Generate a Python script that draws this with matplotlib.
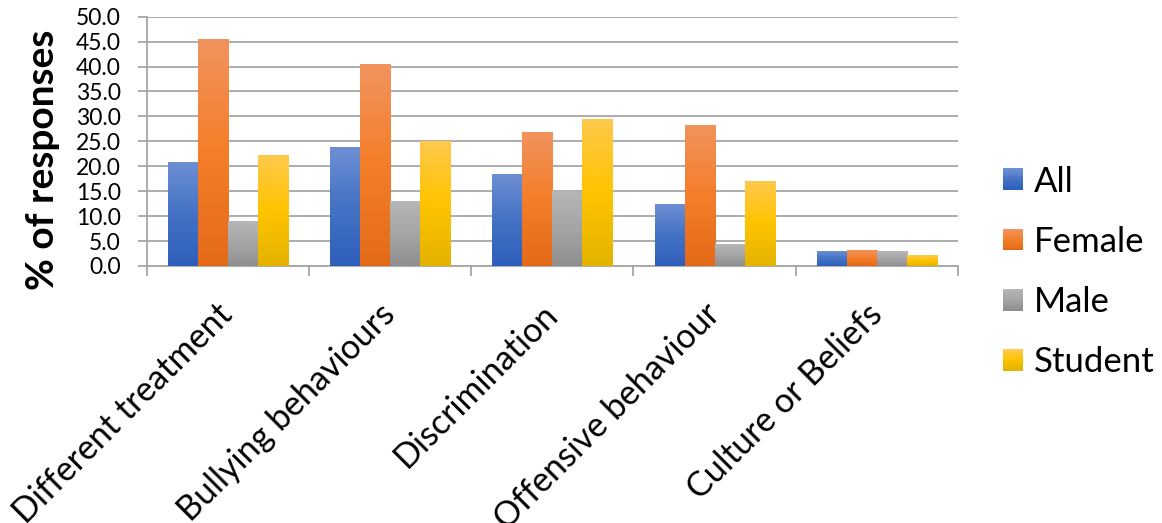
import numpy as np
import matplotlib
matplotlib.use("Agg")
import matplotlib.pyplot as plt
from matplotlib.colors import LinearSegmentedColormap
from matplotlib.legend_handler import HandlerPatch
from matplotlib.patches import Rectangle, Patch

# data
categories = ["Different treatment", "Bullying behaviours", "Discrimination",
              "Offensive behaviour", "Culture or Beliefs"]
series_names = ["All", "Female", "Male", "Student"]
all_vals = [20.7, 23.7, 18.4, 12.4, 3.0]
female_vals = [45.5, 40.5, 26.7, 28.1, 3.2]
male_vals = [9.0, 13.0, 15.0, 4.4, 3.0]
student_vals = [22.1, 24.9, 29.3, 17.0, 2.2]
yticks = [0, 5, 10, 15, 20, 25, 30, 35, 40, 45, 50]

# gradient stops per series: top, middle, bottom
grads = [
    ("#6d8fd3", "#4472c4", "#2e5fbb"),
    ("#f1935e", "#f47e29", "#e36a19"),
    ("#b6b6b6", "#a5a5a5", "#8f8f8f"),
    ("#ffc94c", "#ffc400", "#e3b300"),
]

plt.rcParams["font.family"] = ["Lato", "DejaVu Sans"]

fig = plt.figure(figsize=(11.62, 5.23), dpi=100)
ax = fig.add_axes([0.1262, 0.4914, 0.6983, 0.4767])

values = [all_vals, female_vals, male_vals, student_vals]
x = np.arange(len(categories))
bw = 0.185
offs = (np.arange(4) - 1.5) * bw

for i, vals in enumerate(values):
    cmap = LinearSegmentedColormap.from_list("g%d" % i, list(grads[i]))
    grad = np.linspace(0, 1, 256).reshape(-1, 1)
    bars = ax.bar(x + offs[i], vals, width=bw, color=grads[i][1], zorder=2)
    for b in bars:
        x0, w, h = b.get_x(), b.get_width(), b.get_height()
        ax.imshow(grad, cmap=cmap, extent=(x0, x0 + w, 0, h), aspect="auto",
                  origin="upper", zorder=3, interpolation="bilinear")

ax.set_xlim(-0.5, len(categories) - 0.5)
ax.set_ylim(0, 50)

# axis styling
gray = "#a6a6a6"
for s in ["top", "right"]:
    ax.spines[s].set_visible(False)
ax.spines["left"].set_color(gray)
ax.spines["bottom"].set_color(gray)
ax.spines["left"].set_linewidth(1.3)
ax.spines["bottom"].set_linewidth(1.3)
ax.set_yticks(yticks)
ax.set_yticklabels(["%.1f" % v for v in yticks], fontsize=16.5)
ax.tick_params(axis="y", length=6.5, color=gray, width=1.3, pad=12)
ax.yaxis.grid(True, color=gray, linewidth=1.3, zorder=0)
ax.set_axisbelow(True)

ax.set_xticks(x)
ax.set_xticklabels(categories, fontsize=24.5, rotation=45, ha="right",
                   va="center", rotation_mode="anchor")
ax.tick_params(axis="x", length=0, pad=31)
ax.set_xticks(np.arange(-0.5, len(categories)), minor=True)
ax.tick_params(axis="x", which="minor", length=7.5, color=gray, width=1.3)

fig.text(43 / 1162, 1 - 160 / 523, "% of responses", rotation=90,
         fontsize=28, fontweight="bold", ha="center", va="center")


# legend squares drawn with a stepped gradient
class GradHandler(HandlerPatch):
    def __init__(self, stops):
        super().__init__()
        self.stops = stops

    def create_artists(self, legend, orig_handle, xdescent, ydescent,
                       width, height, fontsize, trans):
        cmap = LinearSegmentedColormap.from_list("lg", list(self.stops))
        n = 12
        arts = []
        for k in range(n):
            y0 = -ydescent + height * (n - 1 - k) / n
            r = Rectangle((-xdescent, y0), width, height / n + 0.2,
                          facecolor=cmap(k / (n - 1)), edgecolor="none",
                          transform=trans)
            arts.append(r)
        return arts


handles = [Patch(label=n) for n in series_names]
hmap = {h: GradHandler(grads[i]) for i, h in enumerate(handles)}
fig.legend(handles=handles, handler_map=hmap, loc="center left",
           bbox_to_anchor=(1003 / 1162, 1 - 272 / 523), frameon=False,
           fontsize=25, handlelength=0.58, handleheight=0.58,
           handletextpad=0.3, labelspacing=0.81, borderaxespad=0,
           borderpad=0)

fig.savefig("out.png", dpi=100)
